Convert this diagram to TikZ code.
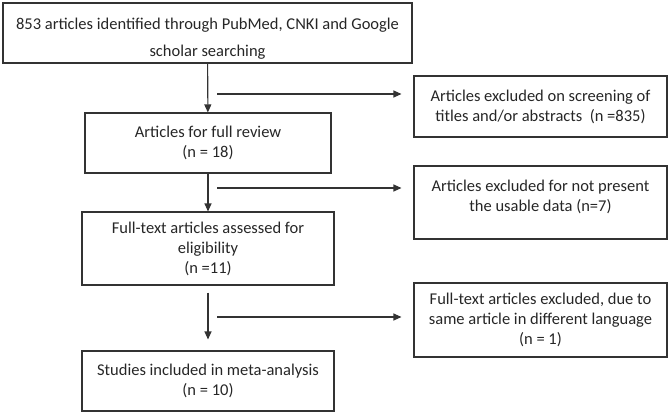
\documentclass[tikz,border=0pt]{standalone}
\usepackage{fontspec}
\setmainfont{Carlito}
\usepackage{tikz}
\usetikzlibrary{positioning, arrows.meta}

\tikzset{
	box/.style = {draw = black!80, line width = 1.1pt, rectangle, align = center, inner sep = 0pt, font = \fontsize{16.5}{20}\selectfont, text = black!85},
	flow/.style = {draw = black!80, line width = 1.1pt, -{Triangle[length = 8pt, width = 7pt]}}
}

\begin{document}
\begin{tikzpicture}[x = 1pt, y = -1pt]
		\useasboundingbox (0, 0) rectangle (671, 415);
		\node[box, minimum width = 409pt, minimum height = 60pt] (ident) at (207.5, 33) {\raisebox{-10pt}[0pt][0pt]{\begin{tabular}{@{}c@{}}853 articles identified through PubMed, CNKI and Google\\[7pt]scholar searching\end{tabular}}};
		\node[box, minimum width = 246pt, minimum height = 60pt] (review) at (208, 143) {Articles for full review\\(n = 18)};
		\node[box, minimum width = 252pt, minimum height = 73pt] (elig) at (208, 248.5) {Full-text articles assessed for\\eligibility\\(n =11)};
		\node[box, minimum width = 252pt, minimum height = 60pt] (incl) at (208, 381) {Studies included in meta-analysis\\(n = 10)};
		\node[box, minimum width = 253pt, minimum height = 61pt] (excl1) at (540.5, 106.5) {Articles excluded on screening of\\titles and/or abstracts~ (n =835)};
		\node[box, minimum width = 253pt, minimum height = 73pt] (excl2) at (540.5, 202.5) {\raisebox{1pt}[0pt][0pt]{\begin{tabular}{@{}c@{}}Articles excluded for not present\\the usable data (n=7)\end{tabular}}};
		\node[box, minimum width = 253pt, minimum height = 74pt] (excl3) at (540.5, 320) {Full-text articles excluded, due to\\same article in different language\\(n = 1)};
		\coordinate (b1) at (217, 94);
		\coordinate (b2) at (217, 188);
		\coordinate (b3) at (217, 317);
		\draw[flow] (ident) -- (review);
		\draw[flow] (review) -- (elig);
		\draw[flow, shorten <= 7pt, shorten >= 11pt] (elig) -- (incl);
		\draw[flow, shorten >= 12pt] (b1) -- (b1 -| excl1.west);
		\draw[flow, shorten >= 12pt] (b2) -- (b2 -| excl2.west);
		\draw[flow, shorten >= 12pt] (b3) -- (b3 -| excl3.west);
		\end{tikzpicture}
\end{document}
